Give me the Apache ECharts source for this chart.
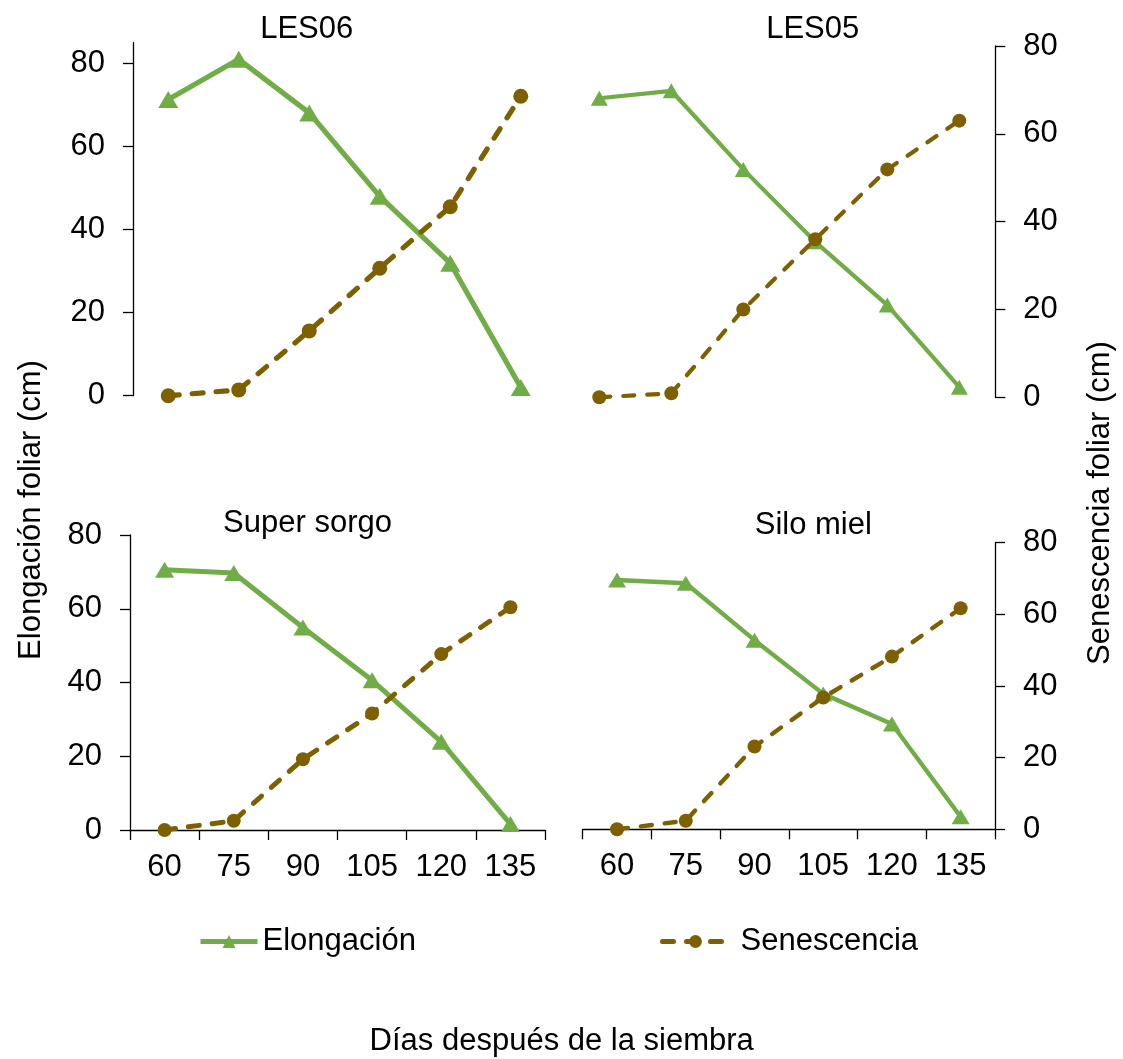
<!DOCTYPE html>
<html><head><meta charset="utf-8">
<script src="https://cdn.jsdelivr.net/npm/echarts@6/dist/echarts.min.js"></script>
<style>html,body{margin:0;padding:0;background:#fff}#c{width:1123px;height:1059px}</style>
</head><body><div id="c"></div>
<script>
// ---- data ----
const days = ['60', '75', '90', '105', '120', '135'];
const panelNames = ['LES06', 'LES05', 'Super sorgo', 'Silo miel'];
const les06Elong = [71.3, 81.0, 68.1, 48.0, 31.9, 2.0];
const les06Sen   = [0, 1.4, 15.6, 30.7, 45.5, 72.1];
const les05Elong = [68.1, 69.8, 51.9, 35.4, 21.0, 2.3];
const les05Sen   = [0, 0.9, 20.0, 36.0, 51.9, 63.0];
const superElong = [70.6, 69.7, 54.9, 40.6, 23.9, 1.6];
const superSen   = [0, 2.5, 19.2, 31.6, 47.7, 60.4];
const siloElong  = [69.6, 68.7, 52.8, 37.8, 29.4, 3.5];
const siloSen    = [0, 2.4, 23.1, 36.8, 48.2, 61.7];
const yTickValues = [0, 20, 40, 60, 80];
const yMax = [85, 80, 80, 80];
const seriesNames = ['Elongación', 'Senescencia'];
const yTitleLeft = 'Elongación foliar (cm)';
const yTitleRight = 'Senescencia foliar (cm)';
const xTitle = 'Días después de la siembra';

const elongData = [les06Elong, les05Elong, superElong, siloElong];
const senData = [les06Sen, les05Sen, superSen, siloSen];

// ---- layout / style ----
const FONT = '"Liberation Sans", Arial, sans-serif';
const FS = 31;
const GREEN = '#70AD47';
const BROWN = '#7F6000';
const grids = [
  {left: 133, top: 42.7, width: 423, height: 353},
  {left: 563.3, top: 46, width: 432, height: 351.3},
  {left: 130, top: 535, width: 415, height: 295},
  {left: 582.7, top: 542.7, width: 412.3, height: 286.6}
];
const lineW = [5.2, 4.2, 5.0, 4.4];
const triSize = [[20, 17], [17, 15], [19, 16], [18, 15]];
const circSize = [15, 14, 14, 14];
const yPos = ['left', 'right', 'left', 'right'];
const showX = [false, false, true, true];
const titlePos = [[306.7, 29], [812.7, 29], [307.5, 523], [813.3, 525]];

const axisLineStyle = {color: '#000', width: 1.3};

const option = {
  animation: false,
  backgroundColor: '#fff',
  grid: grids.map(g => Object.assign({outerBoundsMode: 'none', containLabel: false}, g)),
  xAxis: grids.map((g, i) => ({
    type: 'category', gridIndex: i, data: days, show: showX[i], boundaryGap: true,
    axisLine: {show: true, lineStyle: axisLineStyle},
    axisTick: {show: true, length: 10, inside: false, lineStyle: axisLineStyle},
    axisLabel: {fontSize: FS, fontFamily: FONT, color: '#000', margin: 22},
    splitLine: {show: false}
  })),
  yAxis: grids.map((g, i) => ({
    type: 'value', gridIndex: i, min: 0, max: yMax[i], interval: 20, position: yPos[i],
    axisLine: {show: true, onZero: false, lineStyle: axisLineStyle},
    axisTick: {show: true, length: 10, inside: false, lineStyle: axisLineStyle, customValues: yTickValues},
    axisLabel: {fontSize: FS, fontFamily: FONT, color: '#000', margin: 28, customValues: yTickValues},
    splitLine: {show: false}
  })),
  legend: [
    {data: [seriesNames[0]], left: 198, top: 926, padding: 0, itemWidth: 57, itemHeight: 16,
     lineStyle: {width: 5}, textStyle: {fontSize: FS, fontFamily: FONT, color: '#000'}},
    {data: [seriesNames[1]], left: 660, top: 926, padding: 0, itemWidth: 66, itemHeight: 16,
     lineStyle: {width: 5},
     textStyle: {fontSize: FS, fontFamily: FONT, color: '#000', padding: [0, 0, 0, 7]}}
  ],
  series: [],
  graphic: []
};

for (let i = 0; i < 4; i++) {
  option.series.push({
    type: 'line', name: seriesNames[0], xAxisIndex: i, yAxisIndex: i, data: elongData[i],
    symbol: 'triangle', symbolSize: triSize[i],
    lineStyle: {color: GREEN, width: lineW[i]}, itemStyle: {color: GREEN}, z: 2
  });
  option.series.push({
    type: 'line', name: seriesNames[1], xAxisIndex: i, yAxisIndex: i, data: senData[i],
    symbol: 'circle', symbolSize: circSize[i],
    lineStyle: {color: BROWN, width: lineW[i], type: [11, 13], cap: 'round'}, itemStyle: {color: BROWN}, z: 3
  });
  option.graphic.push({
    type: 'text', x: titlePos[i][0], y: titlePos[i][1],
    style: {text: panelNames[i], font: FS + 'px ' + FONT, fill: '#000', align: 'center', verticalAlign: 'middle'}
  });
}
option.graphic.push(
  {type: 'text', x: 31.7, y: 510, rotation: Math.PI / 2,
   style: {text: yTitleLeft, font: FS + 'px ' + FONT, fill: '#000', align: 'center', verticalAlign: 'middle'}},
  {type: 'text', x: 1100.5, y: 503, rotation: Math.PI / 2,
   style: {text: yTitleRight, font: FS + 'px ' + FONT, fill: '#000', align: 'center', verticalAlign: 'middle'}},
  {type: 'text', x: 561.7, y: 1041,
   style: {text: xTitle, font: FS + 'px ' + FONT, fill: '#000', align: 'center', verticalAlign: 'middle'}}
);

const chart = echarts.init(document.getElementById('c'), null, {renderer: 'canvas'});
chart.setOption(option);
</script>
</body></html>
